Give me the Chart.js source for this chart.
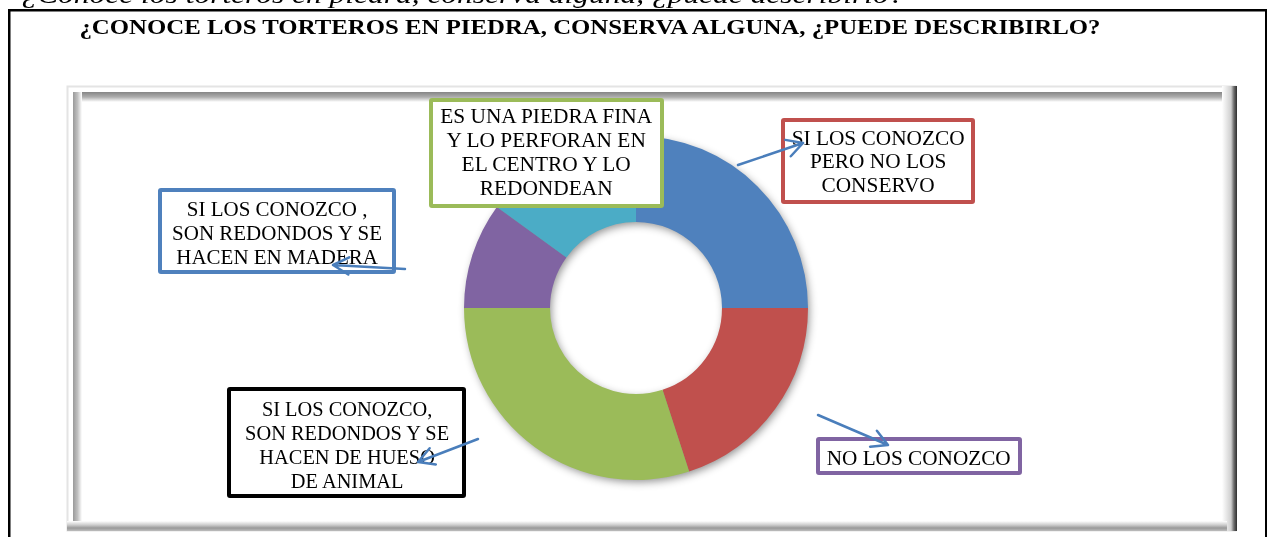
<!DOCTYPE html>
<html><head><meta charset="utf-8">
<script src="https://cdn.jsdelivr.net/npm/chart.js@4.4.1/dist/chart.umd.min.js"></script>
<style>
html,body{margin:0;padding:0;background:#fff;width:1276px;height:537px;overflow:hidden;position:relative;font-family:"Liberation Serif","Times New Roman",serif;}
.abs{position:absolute;}
.txt{position:absolute;white-space:nowrap;color:#000;transform-origin:center top;text-align:center;}
.txt span{display:inline-block;}
.box{position:absolute;box-sizing:border-box;background:#fff;border-style:solid;border-width:4px;border-radius:3px;}
</style></head><body>
<svg id="frame" class="abs" width="1276" height="537" style="left:0;top:0">
  <defs>
    <linearGradient id="gTop" x1="0" y1="0" x2="0" y2="1"><stop offset="0" stop-color="#858585"/><stop offset="0.5" stop-color="#adadad"/><stop offset="1" stop-color="#ffffff"/></linearGradient>
    <linearGradient id="gLeft" x1="0" y1="0" x2="1" y2="0"><stop offset="0" stop-color="#9a9a9a"/><stop offset="0.5" stop-color="#c0c0c0"/><stop offset="1" stop-color="#ffffff"/></linearGradient>
    <linearGradient id="gRight" x1="0" y1="0" x2="1" y2="0"><stop offset="0" stop-color="#ffffff"/><stop offset="0.6" stop-color="#cfcfcf"/><stop offset="0.8" stop-color="#6a6a6a"/><stop offset="1" stop-color="#2e2e2e"/></linearGradient>
    <linearGradient id="gBot" x1="0" y1="0" x2="0" y2="1"><stop offset="0" stop-color="#ffffff"/><stop offset="0.4" stop-color="#cccccc"/><stop offset="0.7" stop-color="#999999"/><stop offset="1" stop-color="#bdbdbd"/></linearGradient>
  </defs>
  <rect x="8" y="9" width="1258" height="2.5" fill="#000"/>
  <rect x="8" y="9" width="2.5" height="528" fill="#000"/>
  <rect x="1265" y="9" width="2" height="528" fill="#000"/>
  <rect x="67.5" y="86.5" width="1168" height="444" fill="none" stroke="#e4e4e4" stroke-width="2"/>
  <rect x="73" y="92" width="1150" height="10" fill="url(#gTop)"/>
  <rect x="73" y="92" width="9" height="430" fill="url(#gLeft)"/>
  <rect x="1222" y="86" width="15" height="445" fill="url(#gRight)"/>
  <rect x="67" y="521" width="1160" height="10" fill="url(#gBot)"/>
</svg>
<div class="abs" style="left:444px;top:116px;width:384px;height:384px"><canvas id="c" width="384" height="384" style="width:384px;height:384px"></canvas></div>
<div id="ann" class="abs" style="left:0;top:0;width:1276px;height:537px"></div>
<svg id="arrows" class="abs" width="1276" height="537" style="left:0;top:0"></svg>
<script>
// ---- data ----
const categories = [
  "SI LOS CONOZCO PERO NO LOS CONSERVO",
  "NO LOS CONOZCO",
  "SI LOS CONOZCO, SON REDONDOS Y SE HACEN DE HUESO DE ANIMAL",
  "SI LOS CONOZCO , SON REDONDOS Y SE HACEN EN MADERA",
  "ES UNA PIEDRA FINA Y LO PERFORAN EN EL CENTRO Y LO REDONDEAN"
];
const values = [25, 20, 30, 10, 15];
const sliceColors = ['#4F81BD', '#C0504D', '#9BBB59', '#8064A2', '#4BACC6'];
const pageQuestion = "¿Conoce los torteros en piedra, conserva alguna, ¿puede describirlo?";
const chartTitle = "¿CONOCE LOS TORTEROS EN PIEDRA, CONSERVA ALGUNA, ¿PUEDE DESCRIBIRLO?";
const labelLinesGreen = ["ES UNA PIEDRA FINA", "Y LO PERFORAN EN", "EL CENTRO Y LO", "REDONDEAN"];
const labelLinesRed = ["SI LOS CONOZCO", "PERO NO LOS", "CONSERVO"];
const labelLinesBlue = ["SI LOS CONOZCO ,", "SON REDONDOS Y SE", "HACEN EN MADERA"];
const labelLinesBlack = ["SI LOS CONOZCO,", "SON REDONDOS Y SE", "HACEN DE HUESO", "DE ANIMAL"];
const labelLinesPurple = ["NO LOS CONOZCO"];

// ---- text helper ----
const ann = document.getElementById('ann');
function placeText(lines, cx, baseline, lh, fs, refIdx, targetW, extra) {
  const d = document.createElement('div');
  d.className = 'txt';
  d.style.fontSize = fs + 'px';
  d.style.lineHeight = lh + 'px';
  if (extra) Object.assign(d.style, extra);
  lines.forEach((t, i) => {
    const s = document.createElement('span');
    s.textContent = t;
    d.appendChild(s);
    if (i < lines.length - 1) d.appendChild(document.createElement('br'));
  });
  ann.appendChild(d);
  const w = d.offsetWidth;
  const rw = d.querySelectorAll('span')[refIdx].getBoundingClientRect().width;
  const sc = targetW / rw;
  d.style.left = (cx - w / 2) + 'px';
  d.style.top = (baseline - ((lh - 1.107 * fs) / 2 + 0.891 * fs)) + 'px';
  d.style.transform = 'scaleX(' + sc + ')';
}
function box(x1, y1, x2, y2, color) {
  const b = document.createElement('div');
  b.className = 'box';
  Object.assign(b.style, {left: x1 + 'px', top: y1 + 'px', width: (x2 - x1) + 'px', height: (y2 - y1) + 'px', borderColor: color});
  ann.appendChild(b);
}

placeText([pageQuestion], 463, 3.5, 30, 26, 0, 883, {fontStyle: 'italic'});
placeText([chartTitle], 589.5, 33.5, 24, 20.5, 0, 1021, {fontWeight: 'bold'});

box(429, 98, 664, 208, '#9BBB59');
placeText(labelLinesGreen, 546, 123, 24, 20, 0, 212);
box(781, 118, 975, 204, '#C0504D');
placeText(labelLinesRed, 878, 145, 23.5, 20, 0, 173);
box(158, 188, 396, 274, '#4F81BD');
placeText(labelLinesBlue, 277, 216, 24, 20, 1, 210);
box(227, 387, 466, 498, '#000000');
placeText(labelLinesBlack, 347, 417, 23.7, 20, 1, 204);
box(816, 437, 1022, 475, '#8064A2');
placeText(labelLinesPurple, 918, 465, 24, 20, 0, 184);

const arrows = [
  [738, 165, 803, 143],
  [818, 415, 888, 445],
  [478, 439, 418, 462],
  [405, 269, 333, 265]
];
const svg = document.getElementById('arrows');
const NS = 'http://www.w3.org/2000/svg';
arrows.forEach(([x1, y1, x2, y2]) => {
  const a = Math.atan2(y1 - y2, x1 - x2);
  const L = 18, sp = 0.5;
  const p = document.createElementNS(NS, 'path');
  const b1 = [x2 + L * Math.cos(a + sp), y2 + L * Math.sin(a + sp)];
  const b2 = [x2 + L * Math.cos(a - sp), y2 + L * Math.sin(a - sp)];
  p.setAttribute('d', `M${x1},${y1} L${x2},${y2} M${b1[0]},${b1[1]} L${x2},${y2} L${b2[0]},${b2[1]}`);
  p.setAttribute('stroke', '#4A7EBB');
  p.setAttribute('stroke-width', '2.5');
  p.setAttribute('fill', 'none');
  p.setAttribute('stroke-linecap', 'round');
  p.setAttribute('stroke-linejoin', 'round');
  svg.appendChild(p);
});

// ---- chart ----
const ringShadow = {
  id: 'ringShadow',
  beforeDatasetsDraw(chart) {
    const arc = chart.getDatasetMeta(0).data[0];
    if (!arc) return;
    const ctx = chart.ctx;
    ctx.save();
    ctx.beginPath();
    ctx.arc(arc.x, arc.y, arc.outerRadius - 1, 0, Math.PI * 2);
    ctx.arc(arc.x, arc.y, arc.innerRadius + 1, 0, Math.PI * 2, true);
    ctx.closePath();
    ctx.shadowColor = 'rgba(0,0,0,0.45)';
    ctx.shadowBlur = 9;
    ctx.shadowOffsetX = 2;
    ctx.shadowOffsetY = 3;
    ctx.fillStyle = '#888';
    ctx.fill('evenodd');
    ctx.restore();
  }
};
new Chart(document.getElementById('c'), {
  type: 'doughnut',
  data: {
    labels: categories,
    datasets: [{data: values, backgroundColor: sliceColors, borderWidth: 0, hoverOffset: 0}]
  },
  options: {
    responsive: false,
    animation: false,
    cutout: '50%',
    layout: {padding: 20},
    plugins: {legend: {display: false}, tooltip: {enabled: false}, title: {display: false}}
  },
  plugins: [ringShadow]
});
</script>
</body></html>
